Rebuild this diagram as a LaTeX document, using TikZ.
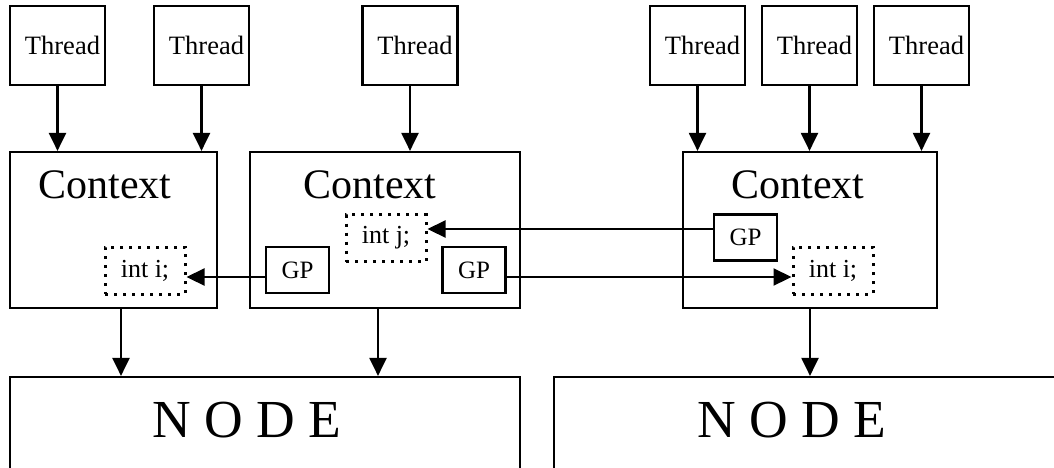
\documentclass[tikz,border=0pt]{standalone}
\usepackage{fontspec}
\setmainfont{Liberation Serif}
\usetikzlibrary{arrows.meta}
\begin{document}
\begin{tikzpicture}[x=1pt,y=-1pt,line width=2.2pt,
  box/.style={draw,line width=2.2pt,inner sep=0pt},
  thr/.style={box,minimum width=95pt,minimum height=79pt,font=\fontsize{26.5}{31}\selectfont},
  ctx/.style={box,minimum height=156pt},
  gp/.style={box,minimum width=63pt,minimum height=46pt,font=\fontsize{25}{30}\selectfont},
  var/.style={draw,line width=3pt,dash pattern=on 3pt off 6pt,minimum width=80pt,minimum height=47pt,inner sep=0pt,font=\fontsize{26}{31}\selectfont},
  ctxt/.style={font=\fontsize{42}{50}\selectfont,anchor=base,inner sep=0pt},
  nbox/.style={box,minimum height=143pt},
  ntxt/.style={font=\fontsize{53.5}{64}\selectfont,anchor=base,inner sep=0pt},
  arr/.style={line width=2.2pt,-{Triangle[length=18pt,width=17pt]}}
]
\clip (0,0) rectangle (1054,467);
% threads
\node[thr] (T1) at (57.5,45.5) {\hspace{10pt}Thread};
\node[thr] (T2) at (201.5,45.5) {\hspace{10pt}Thread};
\node[thr] (T3) at (410,45.5) {\hspace{10pt}Thread};
\node[thr] (T4) at (697.5,45.5) {\hspace{10pt}Thread};
\node[thr] (T5) at (809.5,45.5) {\hspace{10pt}Thread};
\node[thr] (T6) at (921.5,45.5) {\hspace{10pt}Thread};
% contexts
\node[ctx,minimum width=207pt] (C1) at (113.5,230) {};
\node[ctx,minimum width=270pt] (C2) at (385,230) {};
\node[ctx,minimum width=254pt] (C3) at (810,230) {};
\node[ctxt] (C1t) at (105,198) {Context};
\node[ctxt] (C2t) at (370,198) {Context};
\node[ctxt] (C3t) at (798,198) {Context};
% GP boxes
\node[gp] (G2L) at (297.5,270) {GP};
\node[gp] (G2R) at (474,270) {GP};
\node[gp] (G3) at (745.5,237.5) {GP};
% variables
\node[var] (I1) at (145,270.5) {int i;};
\node[var] (J2) at (386,238) {int j;};
\node[var] (I3) at (833,270.5) {int i;};
% nodes
\node[nbox,minimum width=510pt] (N1) at (265,448.5) {};
\node[nbox,minimum width=546pt] (N2) at (827,448.5) {};
\node[ntxt] (N1t) at (247,437) {N O D E};
\node[ntxt] (N2t) at (791.5,437) {N O D E};
% thread arrows
\draw[arr] (T1.south) -- (T1.south |- C1.north);
\draw[arr] (T2.south) -- (T2.south |- C1.north);
\draw[arr] (T3.south) -- (T3.south |- C2.north);
\draw[arr] (T4.south) -- (T4.south |- C3.north);
\draw[arr] (T5.south) -- (T5.south |- C3.north);
\draw[arr] (T6.south) -- (T6.south |- C3.north);
% context to node arrows
\draw[arr] ([xshift=7.5pt]C1.south) -- ([xshift=7.5pt]C1.south |- N1.north);
\draw[arr] ([xshift=-7pt]C2.south) -- ([xshift=-7pt]C2.south |- N1.north);
\draw[arr] (C3.south) -- (C3.south |- N2.north);
% GP arrows
\draw[arr] ([yshift=-7pt]G2L.west) -- ([yshift=-6.5pt]I1.east);
\draw[arr] ([yshift=-7pt]G2R.east) -- ([yshift=-6.5pt]I3.west);
\draw[arr] ([yshift=8.5pt]G3.west) -- ([yshift=9pt]J2.east);
\end{tikzpicture}
\end{document}
